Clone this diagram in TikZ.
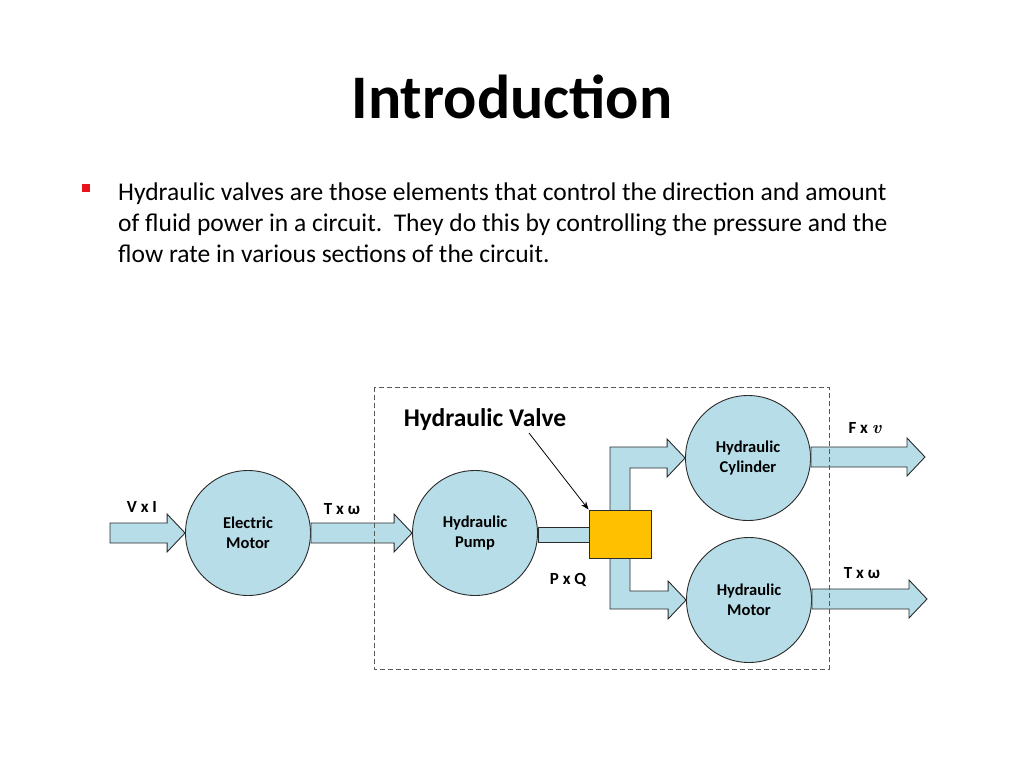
\documentclass[tikz,border=0pt]{standalone}
\usepackage{fontspec}
\setmainfont{Carlito}
\newfontfamily\lmroman{Latin Modern Roman}
\usetikzlibrary{calc,arrows.meta}
\definecolor{aqua}{HTML}{B7DDE8}
\definecolor{valvefill}{HTML}{FFC000}
\definecolor{edge}{HTML}{2B2B2B}
\definecolor{bulletred}{HTML}{E8141B}
\tikzset{
  unit/.style={circle, draw=edge, line width=0.9pt, fill=aqua, minimum size=125pt, inner sep=0pt,
    font=\fontsize{16.5}{20}\selectfont\bfseries, align=center},
  blockarrow/.style={draw=edge, line width=0.9pt, fill=aqua, line join=miter},
  lbl/.style={font=\fontsize{17}{19}\selectfont\bfseries, inner sep=0pt},
  bodyline/.style={anchor=base west, inner sep=0pt, font=\fontsize{25.5}{31}\selectfont},
  boundary/.style={draw=black!65, line width=1pt, dash pattern=on 5pt off 3pt}
}
\newcommand\harrowdraw[2]{%
  \draw[blockarrow] let \p1=(#1), \p2=(#2) in
    (\x1,\y2+10pt) -- (\x2-18pt,\y2+10pt) -- (\x2-18pt,\y2+19pt) -- (\x2,\y2)
    -- (\x2-18pt,\y2-19pt) -- (\x2-18pt,\y2-10pt) -- (\x1,\y2-10pt) -- cycle;}
\begin{document}
\begin{tikzpicture}[x=1pt,y=-1pt]
\useasboundingbox (0,0) rectangle (1024,768);
% title and text
\node[anchor=base, font=\fontsize{62}{70}\selectfont\bfseries, inner sep=0pt] (title) at (512,118) {Introduction};
\node[fill=bulletred, minimum size=8pt, inner sep=0pt] (bullet) at (86,188) {};
\node[bodyline] (body1) at (118,200) {Hydraulic valves are those elements that control the direction and amount};
\node[bodyline] (body2) at (118,231) {of fluid power in a circuit.\ \ They do this by controlling the pressure and the};
\node[bodyline] (body3) at (118,262) {flow rate in various sections of the circuit.};
% units
\node[unit] (em) at (248,533) {Electric\\Motor};
\node[unit] (pump) at (475,533) {Hydraulic\\Pump};
\node[unit] (cyl) at (748,458) {Hydraulic\\Cylinder};
\node[unit] (hmot) at (749,600) {Hydraulic\\Motor};
\coordinate (vin) at (110,533);
\coordinate (fout) at (925,457);
\coordinate (tout) at (927,599);
% straight block arrows
\harrowdraw{vin}{em.west}
\harrowdraw{em.east}{pump.west}
\harrowdraw{cyl.east}{fout}
\harrowdraw{hmot.east}{tout}
% valve and its branches
\coordinate (valvepos) at (620,534);
\draw[blockarrow] let \p1=(pump.east), \p2=(valvepos) in
  (\x1,\y2+7pt) -- (\x2,\y2+7pt) -- (\x2,\y2-8pt) -- (\x1,\y2-8pt) -- cycle;
\draw[blockarrow] let \p1=(valvepos), \p2=(cyl.west) in
  (\x1-10pt,\y1) -- (\x1-10pt,\y2+11pt) -- (\x2-18pt,\y2+11pt) -- (\x2-18pt,\y2+19pt)
  -- (\x2,\y2) -- (\x2-18pt,\y2-19pt) -- (\x2-18pt,\y2-10pt) -- (\x1+10pt,\y2-10pt)
  -- (\x1+10pt,\y1) -- cycle;
\draw[blockarrow] let \p1=(valvepos), \p2=(hmot.west) in
  (\x1-10pt,\y1) -- (\x1-10pt,\y2-9pt) -- (\x2-18pt,\y2-9pt) -- (\x2-18pt,\y2-19pt)
  -- (\x2,\y2) -- (\x2-18pt,\y2+19pt) -- (\x2-18pt,\y2+9pt) -- (\x1+10pt,\y2+9pt)
  -- (\x1+10pt,\y1) -- cycle;
\node[draw=edge, line width=0.9pt, fill=valvefill, minimum width=62pt, minimum height=48pt, inner sep=0pt] (valve) at (valvepos) {};
% labels
\node[lbl] (lvi) at (142,507) {V x I};
\node[lbl] (ltw1) at (342,509) {T x ω};
\node[lbl] (lpq) at (568,580) {P x Q};
\node[lbl] (lfv) at (865,428) {F x {\lmroman\itshape\fontsize{18}{19}\selectfont v}};
\node[lbl] (ltw2) at (862,573) {T x ω};
\node[font=\fontsize{25.5}{28}\selectfont\bfseries, inner sep=0pt] (hvlabel) at (485,420) {Hydraulic Valve};
\coordinate (hvtail) at (529,433);
\draw[line width=0.8pt, -{Stealth[length=8pt,width=6pt]}] (hvtail) -- (valve.north west);
% boundary of the hydraulic system
\draw[boundary] (374,387) rectangle (829,669);
\end{tikzpicture}
\end{document}
